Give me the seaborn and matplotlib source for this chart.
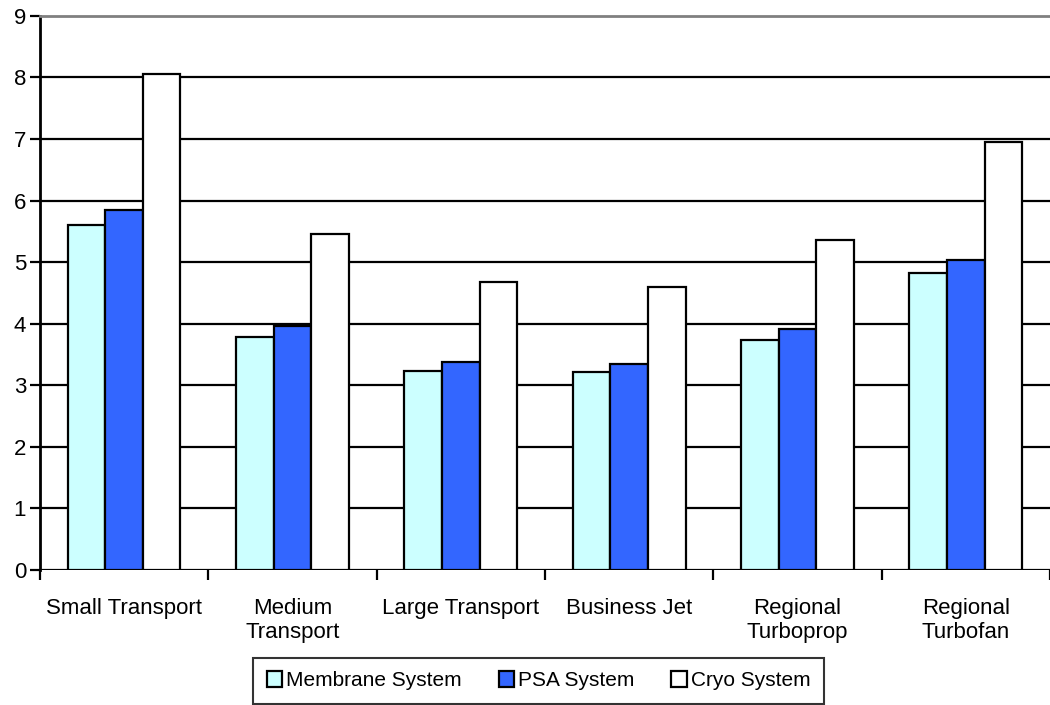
import pandas as pd
import matplotlib
matplotlib.use("Agg")
import matplotlib.pyplot as plt
import seaborn as sns

# --- Data ---
categories = ["Small Transport", "Medium\nTransport", "Large Transport",
              "Business Jet", "Regional\nTurboprop", "Regional\nTurbofan"]
systems = ["Membrane System", "PSA System", "Cryo System"]
membrane = [5.60, 3.78, 3.23, 3.21, 3.73, 4.83]
psa = [5.85, 3.96, 3.38, 3.35, 3.91, 5.04]
cryo = [8.05, 5.46, 4.67, 4.60, 5.36, 6.95]
colors = ["#CCFFFF", "#3366FF", "#FFFFFF"]

df = pd.DataFrame({
    "category": categories * 3,
    "system": [systems[0]] * 6 + [systems[1]] * 6 + [systems[2]] * 6,
    "value": membrane + psa + cryo,
})

# --- Plot ---
sns.set_style("white")
plt.rcParams["font.family"] = ["Liberation Sans", "DejaVu Sans"]
plt.rcParams["text.color"] = "black"
plt.rcParams["xtick.color"] = "black"
plt.rcParams["ytick.color"] = "black"

fig = plt.figure(figsize=(10.5, 7.05), dpi=100)
ax = fig.add_axes([0.038, 0.1915, 0.962, 0.786])

sns.barplot(data=df, x="category", y="value", hue="system", order=categories,
            hue_order=systems, palette=colors, width=0.67, edgecolor="black",
            linewidth=1.6, saturation=1, ax=ax)

ax.set_xlim(-0.5, len(categories) - 0.5)
ax.set_ylim(0, 9)
ax.set_yticks(range(10))
ax.set_xlabel("")
ax.set_ylabel("")

# horizontal gridlines, black, behind bars
ax.set_axisbelow(True)
ax.yaxis.grid(True, color="black", linewidth=1.6)
ax.yaxis.get_gridlines()[-1].set_visible(False)

for side in ["right", "bottom"]:
    ax.spines[side].set_visible(False)
ax.spines["left"].set_color("black")
ax.spines["left"].set_linewidth(2)
ax.spines["top"].set_color("#808080")
ax.spines["top"].set_linewidth(2)
ax.axhline(0, color="black", linewidth=2, zorder=3)

# category labels at centres, tick marks at boundaries
ax.set_xticks(range(len(categories)))
ax.set_xticklabels(categories, fontsize=16, linespacing=1.2)
ax.set_xticks([i - 0.5 for i in range(len(categories) + 1)], minor=True)
ax.tick_params(axis="x", which="major", length=0, pad=20)
ax.tick_params(axis="x", which="minor", bottom=True, length=7, width=1.6,
               color="black", direction="out")
ax.tick_params(axis="y", left=True, length=7, width=1.6, color="black",
               direction="out", labelsize=16, pad=3)

ax.legend_.remove()
handles, labels = ax.get_legend_handles_labels()
leg = fig.legend(handles, labels, loc="lower center", bbox_to_anchor=(0.513, -0.013),
                 ncol=3, fontsize=15, frameon=True, fancybox=False,
                 handlelength=0.75, handleheight=0.75, handletextpad=0.2,
                 columnspacing=1.75, borderpad=0.65)
leg.get_frame().set_edgecolor("black")
leg.get_frame().set_linewidth(1.5)

fig.savefig("out.png", dpi=100)
